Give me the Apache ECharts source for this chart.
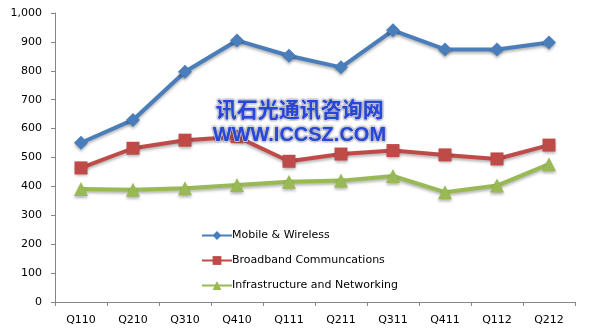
<!DOCTYPE html>
<html><head><meta charset="utf-8">
<script src="https://cdn.jsdelivr.net/npm/echarts@6/dist/echarts.min.js"></script>
<style>html,body{margin:0;padding:0;background:#fff}#c{width:593px;height:331px}</style>
</head><body><div id="c"></div>
<script>
var categories = ['Q110','Q210','Q310','Q410','Q111','Q211','Q311','Q411','Q112','Q212'];
var mobile = [551, 630, 797, 905, 852, 812, 940, 874, 874, 898];
var broadband = [464, 532, 560, 572, 487, 512, 524, 509, 495, 543];
var infra = [391, 388, 394, 405, 416, 420, 436, 380, 403, 477];
var names = ['Mobile & Wireless','Broadband Communcations','Infrastructure and Networking'];

var chart = echarts.init(document.getElementById('c'));
function mk(name, data, color, symbol, size){
  return {name:name, type:'line', data:data, symbol:symbol, symbolSize:size,
    lineStyle:{width:4,color:color,shadowColor:'rgba(0,0,0,0.3)',shadowBlur:3,shadowOffsetY:2},
    itemStyle:{color:color,shadowColor:'rgba(0,0,0,0.3)',shadowBlur:3,shadowOffsetY:2},
    emphasis:{disabled:true}, animation:false, z:3};
}
chart.setOption({
  animation:false,
  grid:{left:55, right:18, top:13, bottom:29, containLabel:false},
  legend:{orient:'vertical', left:196, top:225, itemGap:14, itemWidth:30, itemHeight:11,
    textStyle:{fontFamily:'DejaVu Sans', fontSize:11, color:'#000', padding:[0,0,0,-5]},
    data:names},
  xAxis:{type:'category', data:categories, boundaryGap:true,
    axisLine:{lineStyle:{color:'#868686'}},
    axisTick:{show:true, alignWithLabel:false, length:4, lineStyle:{color:'#868686'}},
    axisLabel:{fontFamily:'DejaVu Sans', fontSize:11, color:'#000', margin:13}},
  yAxis:{type:'value', min:0, max:1000, interval:100,
    axisLine:{show:true, lineStyle:{color:'#868686'}},
    axisTick:{show:true, length:4, lineStyle:{color:'#868686'}},
    splitLine:{show:false},
    axisLabel:{fontFamily:'DejaVu Sans', fontSize:11, color:'#000', margin:13,
      formatter:function(v){return v>=1000 ? (v/1000)+','+String(v%1000).padStart(3,'0') : String(v);}}},
  series:[
    mk(names[0], mobile, '#4A7EBB', 'diamond', 14),
    mk(names[1], broadband, '#BE4B48', 'rect', 13),
    mk(names[2], infra, '#98B954', 'triangle', 14)
  ],
  graphic:[
    {type:'text', left:215, top:98, z:10, style:{text:'讯石光通讯咨询网', font:'bold 21px "Noto Sans CJK SC"', fill:'#2648d8', stroke:'#ffffff', lineWidth:1.5, textShadowColor:'rgba(0,0,60,0.6)', textShadowBlur:2}},
    {type:'text', left:212, top:125, z:10, style:{text:'WWW.ICCSZ.COM', font:'bold 20px "Liberation Sans"', fill:'#2648d8', stroke:'#ffffff', lineWidth:1.5, textShadowColor:'rgba(0,0,60,0.6)', textShadowBlur:2}}
  ]
});
</script></body></html>
